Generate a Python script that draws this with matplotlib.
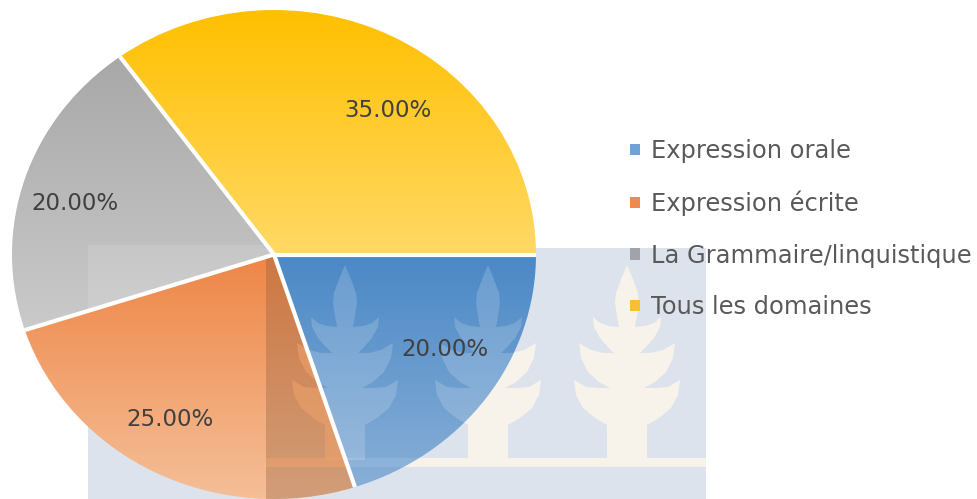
import matplotlib
matplotlib.use('Agg')
import matplotlib.pyplot as plt
from matplotlib.colors import to_rgb
from matplotlib.patches import Patch, Rectangle
import numpy as np

labels = ['Expression orale', 'Expression écrite', 'La Grammaire/linquistique', 'Tous les domaines']
values = [20, 25, 20, 35]
color_top = ['#4a88c6', '#ee8646', '#a8a8a8', '#ffc000']
color_bot = ['#88afd7', '#f5bf98', '#cacaca', '#ffd966']
legend_colors = ['#6fa3d8', '#f0894f', '#a0a4aa', '#f6c02e']
# label centres in picture pixels (x, y from top)
label_pos = [(445, 350), (170, 419), (75, 203), (388, 110)]

H = 499
plt.rcParams['font.family'] = ['DejaVu Sans']
fig = plt.figure(figsize=(9.78, 4.99), dpi=100)
ax = fig.add_axes([0, 0, 1, 1])
ax.set_xlim(0, 978)
ax.set_ylim(0, H)
ax.axis('off')

# watermark behind the pie
ax.add_patch(Rectangle((88, 0), 618, H - 248, fc='#dde3ec', ec='none', zorder=0))
band = (266, H - 467, 440, 9)
ax.add_patch(Rectangle(band[:2], band[2], band[3], fc='#f7f3ea', ec='none', zorder=0.2))
half = [(0, 265), (3, 272), (7, 282), (11, 293), (12, 303), (10, 316), (8, 327), (18, 326), (27, 323), (34, 317),
        (33, 327), (27, 338), (19, 347), (13, 353), (24, 353), (36, 350), (48, 343),
        (46, 358), (39, 372), (28, 382), (17, 388), (28, 388), (41, 387), (53, 380),
        (51, 395), (44, 408), (32, 418), (20, 425), (20, 460)]
half = np.array(half, dtype=float)
tree_x = [345, 488, 627]


def tree(cx):
    xs = np.r_[cx + half[:, 0], cx - half[::-1, 0]]
    ys = np.r_[H - half[:, 1], H - half[::-1, 1]]
    return xs, ys


for cx in tree_x:
    xs, ys = tree(cx)
    ax.fill(xs, ys, color='#f7f3ea', lw=0, zorder=0.1)

# the pie was stretched in the picture: own axes, no equal aspect
ax2 = fig.add_axes([12 / 978, (H - 499) / H, 524 / 978, 489 / H], zorder=2)
ax2.patch.set_alpha(0)
wedges, _ = ax2.pie(values, startangle=0, counterclock=False, radius=1,
                    wedgeprops={'facecolor': 'none', 'edgecolor': 'none', 'zorder': 5})

# gradient fill of every slice, clipped to the wedge
for i, w in enumerate(wedges):
    box = w.get_patch_transform().transform_path(w.get_path()).get_extents()
    rgba = np.zeros((256, 1, 3))
    for k in range(3):
        rgba[:, 0, k] = np.linspace(to_rgb(color_top[i])[k], to_rgb(color_bot[i])[k], 256)
    im = ax2.imshow(rgba, extent=[box.x0, box.x1, box.y0, box.y1], origin='upper', aspect='auto', zorder=2)
    im.set_clip_path(w)

# white separators only between slices, no rim
for w in wedges:
    a = np.radians(w.theta1)
    ax2.plot([0, np.cos(a)], [0, np.sin(a)], color='white', lw=3, zorder=5, solid_capstyle='butt')

ax2.set_xlim(-1, 1)
ax2.set_ylim(-1, 1)
ax2.set_aspect('auto')
ax2.axis('off')

# watermark seen through the slices
for cx in tree_x:
    xs, ys = tree(cx)
    p = ax2.fill(xs, ys, color='white', alpha=0.17, lw=0, zorder=3, transform=ax.transData)[0]
    p.set_clip_path(wedges[0])
b = Rectangle(band[:2], band[2], band[3], fc='white', alpha=0.1, ec='none', zorder=3, transform=ax.transData)
ax2.add_patch(b)
b.set_clip_path(wedges[0])

strip = Rectangle((266, 0), 100, H - 254, fc='#8a5a3a', ec='none', alpha=0.33, zorder=3, transform=ax.transData)
ax2.add_patch(strip)
strip.set_clip_path(wedges[1])
xs, ys = tree(tree_x[0])
p = ax2.fill(xs, ys, color='#f0a26c', alpha=0.55, lw=0, zorder=3.5, transform=ax.transData)[0]
p.set_clip_path(wedges[1])
b = Rectangle(band[:2], band[2], band[3], fc='#f0a26c', alpha=0.5, ec='none', zorder=3.5, transform=ax.transData)
ax2.add_patch(b)
b.set_clip_path(wedges[1])
g = Rectangle((88, H - 340), 200, 95, fc='white', alpha=0.12, ec='none', zorder=3, transform=ax.transData)
ax2.add_patch(g)
g.set_clip_path(wedges[2])

for v, (px, py) in zip(values, label_pos):
    ax2.text(px, H - py, '%.2f%%' % v, ha='center', va='center', fontsize=16.5, color='#404040', zorder=6,
             transform=ax.transData)

handles = [Patch(fc=c, ec='none') for c in legend_colors]
ax.legend(handles, labels, loc='upper left', bbox_to_anchor=(630, H - 139), bbox_transform=ax.transData,
          frameon=False, fontsize=17.4, labelcolor='#595959', handlelength=0.42, handleheight=0.36,
          handletextpad=0.45, labelspacing=1.14, borderpad=0, borderaxespad=0)

fig.savefig('out.png', dpi=100)
